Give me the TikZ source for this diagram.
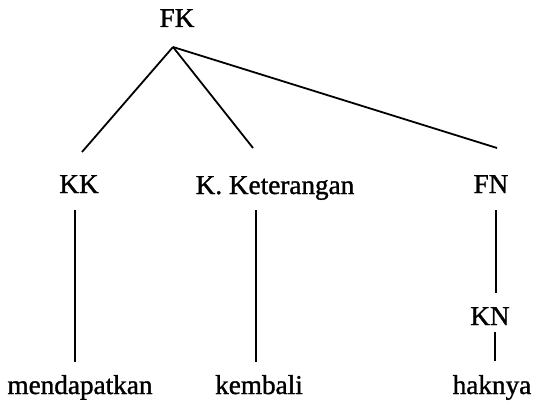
\documentclass[tikz,border=0pt]{standalone}
\usepackage{fontspec}
\setmainfont{Liberation Serif}
\newfontfamily\heavyserif{Liberation Serif}[FakeBold=1.2]
\begin{document}
\begin{tikzpicture}[x=1pt,y=-1pt,
  lbl/.style={font=\heavyserif\fontsize{27.2}{30}\selectfont, inner sep=0pt, anchor=base},
  edge/.style={line width=1.8pt}]
\useasboundingbox (0,0) rectangle (534,406);
\node[lbl] (fk) at (177,27) {FK};
\node[lbl] (kk) at (79,193) {KK};
\node[lbl] (ket) at (275,194) {K. Keterangan};
\node[lbl] (fn) at (491,193) {FN};
\node[lbl] (kn) at (490,325) {KN};
\node[lbl] (mend) at (80,394) {mendapatkan};
\node[lbl] (kemb) at (259,394) {kembali};
\node[lbl] (hak) at (492,394) {haknya};
\coordinate (apex) at ([shift={(-4pt,-20pt)}]fk.base);
\draw[edge] (apex) -- ([shift={(3pt,23pt)}]kk.north);
\draw[edge] (apex) -- ([shift={(-22pt,28pt)}]ket.north);
\draw[edge] (apex) -- ([shift={(6pt,27pt)}]fn.north);
\draw[edge] ([shift={(-4pt,-17pt)}]kk.base) -- ([shift={(-5pt,12.7pt)}]mend.north);
\draw[edge] ([shift={(-19pt,-16pt)}]ket.base) -- ([shift={(-3pt,12.7pt)}]kemb.north);
\draw[edge] ([shift={(5pt,-17pt)}]fn.base) -- ([shift={(6pt,14.3pt)}]kn.north);
\draw[edge] ([shift={(5pt,-7pt)}]kn.base) -- ([shift={(3pt,13.7pt)}]hak.north);
\end{tikzpicture}
\end{document}
